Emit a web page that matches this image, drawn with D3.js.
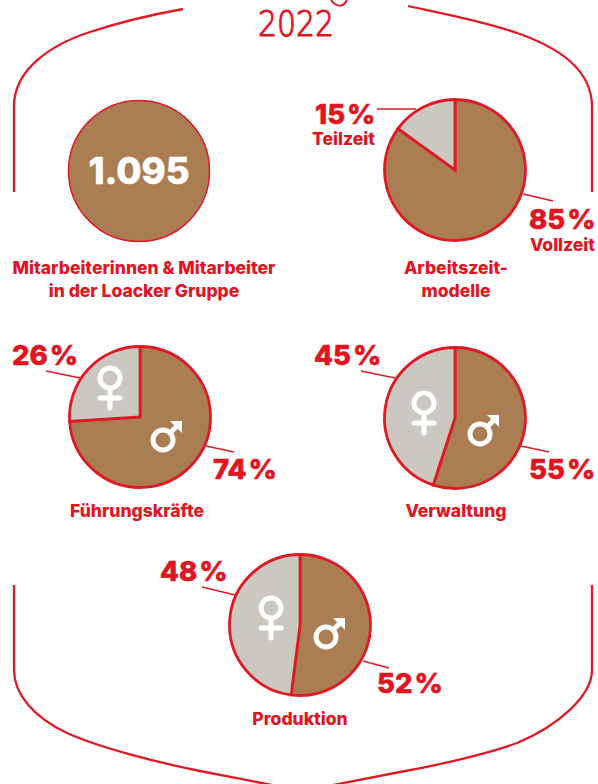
<!DOCTYPE html>
<html>
<head>
<meta charset="utf-8">
<script src="https://cdnjs.cloudflare.com/ajax/libs/d3/7.8.5/d3.min.js"></script>
<style>
html,body{margin:0;padding:0;background:#fff;}
svg{display:block;}
text{font-family:Inter,"Noto Sans",sans-serif;font-weight:800;fill:#e2141f;}
</style>
</head>
<body>
<svg id="chart" width="598" height="784"></svg>
<script>
const RED = "#e01a24", BROWN = "#ab7d53", GREY = "#cbc8c1";

// Share of men / full-time first, clockwise from twelve o'clock
const pieNames = ["Arbeitszeitmodelle", "Führungskräfte", "Verwaltung", "Produktion"];
const mainShares = [85, 74, 55, 52];
const otherShares = [15, 26, 45, 48];
const headcount = "1.095";

const svg = d3.select("#chart");
const R = 70.5;
const arc = d3.arc().innerRadius(0).outerRadius(R);
const pie = d3.pie().sort(null).value(d => d);

const layout = [
  {cx:455, cy:170, mainLabel:[529,229], otherLabel:[315,124], mainLead:[[523,194],[553,201]], otherLead:[[377,109],[416,109]]},
  {cx:140, cy:417, mainLabel:[213,479], otherLabel:[12,365], mainLead:[[206,446],[234,452]], otherLead:[[46,371],[80,378]], venus:[-30,-39], mars:[23,23]},
  {cx:455, cy:418, mainLabel:[529,479], otherLabel:[314,365], mainLead:[[521,446],[549,452]], otherLead:[[361,371],[395,378]], venus:[-31,-15], mars:[25,16]},
  {cx:300, cy:625, mainLabel:[377,693], otherLabel:[160,581], mainLead:[[363,661],[389,668]], otherLead:[[202,587],[235,595]], venus:[-29,-17], mars:[26,12]}
];

// Outer bracket lines
const frame = [
  "M14,192 L14,106 C14,70 50,45 90,32 C120,22 150,15 183,9",
  "M408,6 C430,11 480,20 517,33 C560,48 592,70 592,107 L592,192",
  "M14,585 L14,670 C14,695 35,718 67,733 C100,748 160,763 200,771 L277,786",
  "M592,585 L592,670 C592,695 560,725 517,743 C490,753 440,765 400,772 L328,786"
];
svg.selectAll("path.frame").data(frame).join("path")
  .attr("class","frame").attr("d",d=>d)
  .attr("fill","none").attr("stroke",RED).attr("stroke-width",2.3);

// Heading year and the tail of the letter above it
svg.append("path").attr("d","M331,0 C336,7 343,8 347,0")
  .attr("fill","none").attr("stroke",RED).attr("stroke-width",2);
svg.append("text").attr("x",258).attr("y",36)
  .style("font-family","'DejaVu Sans'").style("font-weight",200).style("font-size","35px")
  .style("stroke","#e2141f").style("stroke-width",1.1)
  .attr("textLength",76).attr("lengthAdjust","spacingAndGlyphs").text("2022");

// Headcount disc
svg.append("circle").attr("cx",139).attr("cy",171).attr("r",R)
  .attr("fill",BROWN).attr("stroke",RED).attr("stroke-width",1.5);
svg.append("text").attr("x",139).attr("y",184).attr("text-anchor","middle")
  .style("fill","#fff").style("stroke","#fff").style("stroke-width",0.5)
  .style("font-size","36.5px").text(headcount);

const ICON = 5;
// x,y is the centre of the ring in both symbols
function venusIcon(g, x, y) {
  g.append("circle").attr("cx",x).attr("cy",y).attr("r",10)
    .attr("fill","none").attr("stroke","#fff").attr("stroke-width",ICON);
  g.append("line").attr("x1",x).attr("x2",x).attr("y1",y+11).attr("y2",y+30)
    .attr("stroke","#fff").attr("stroke-width",ICON).attr("stroke-linecap","round");
  g.append("line").attr("x1",x-10).attr("x2",x+10).attr("y1",y+20).attr("y2",y+20)
    .attr("stroke","#fff").attr("stroke-width",ICON).attr("stroke-linecap","round");
}
function marsIcon(g, x, y) {
  g.append("circle").attr("cx",x).attr("cy",y).attr("r",10)
    .attr("fill","none").attr("stroke","#fff").attr("stroke-width",ICON);
  g.append("path").attr("d",`M${x+6},${y-6} L${x+14},${y-14}`)
    .attr("stroke","#fff").attr("stroke-width",ICON);
  g.append("path").attr("d",`M${x+7},${y-19} L${x+19},${y-19} L${x+19},${y-7} Z`)
    .attr("fill","#fff");
}

layout.forEach((p, i) => {
  const slices = pie([mainShares[i], otherShares[i]]);
  const g = svg.append("g").attr("transform",`translate(${p.cx},${p.cy})`);
  g.selectAll("path").data(slices).join("path")
    .attr("d",arc)
    .attr("fill",(d,k)=>k===0?BROWN:GREY)
    .attr("stroke",RED).attr("stroke-width",2.8).attr("stroke-linejoin","miter");

  [p.mainLead,p.otherLead].forEach(l => {
    svg.append("line").attr("x1",l[0][0]).attr("y1",l[0][1]).attr("x2",l[1][0]).attr("y2",l[1][1])
      .attr("stroke",RED).attr("stroke-width",1.3);
  });
  [[p.mainLabel,mainShares[i]],[p.otherLabel,otherShares[i]]].forEach(([pos,v]) => {
    svg.append("text").attr("x",pos[0]).attr("y",pos[1])
      .style("stroke","#e2141f").style("stroke-width",0.6)
      .style("font-size","27.5px").text(`${v}\u200A%`);
  });

  if (p.venus) {
    venusIcon(svg, p.cx+p.venus[0], p.cy+p.venus[1]);
    marsIcon(svg, p.cx+p.mars[0], p.cy+p.mars[1]);
  }
});

// Captions
const captions = [
  ["Mitarbeiterinnen & Mitarbeiter",144,274],
  ["in der Loacker Gruppe",144,297],
  ["Arbeitszeit-",456,274],
  ["modelle",456,297],
  ["Führungskräfte",137,517],
  ["Verwaltung",456,517],
  ["Produktion",300,725]
];
svg.selectAll("text.cap").data(captions).join("text")
  .attr("class","cap").attr("x",d=>d[1]).attr("y",d=>d[2])
  .attr("text-anchor","middle").style("font-size","17.5px").text(d=>d[0]);

svg.append("text").attr("x",312).attr("y",145).style("font-size","17.5px").text("Teilzeit");
svg.append("text").attr("x",530).attr("y",251).style("font-size","17.5px").text("Vollzeit");
</script>
</body>
</html>
